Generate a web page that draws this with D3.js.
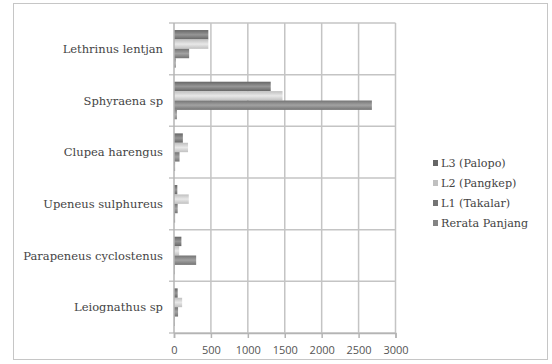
<!DOCTYPE html>
<html>
<head>
<meta charset="utf-8">
<script src="https://cdn.jsdelivr.net/npm/d3@7/dist/d3.min.js"></script>
<style>
  html, body { margin: 0; padding: 0; background: #fff; }
  svg { display: block; }
</style>
</head>
<body>
<svg id="chart" width="552" height="364"></svg>
<script>
// Fish species (top to bottom) and mean length per location
const categories = ["Lethrinus lentjan", "Sphyraena sp", "Clupea harengus", "Upeneus sulphureus", "Parapeneus cyclostenus", "Leiognathus sp"];
const seriesNames = ["L3 (Palopo)", "L2 (Pangkep)", "L1 (Takalar)", "Rerata Panjang"];
const l3Palopo = [465, 1310, 120, 45, 100, 50];
const l2Pangkep = [465, 1470, 190, 200, 70, 110];
const l1Takalar = [205, 2680, 75, 50, 300, 55];
const rerataPanjang = [25, 40, 15, 15, 10, 10];
const xTicks = [0, 500, 1000, 1500, 2000, 2500, 3000];

const seriesValues = [l3Palopo, l2Pangkep, l1Takalar, rerataPanjang];
const seriesColors = [
  { edge: "#666666", mid: "#969696" },
  { edge: "#c0c0c0", mid: "#e8e8e8" },
  { edge: "#747474", mid: "#a2a2a2" },
  { edge: "#848484", mid: "#b0b0b0" }
];

const svg = d3.select("#chart");
const plot = { left: 174, right: 395.5, top: 23, bottom: 333 };

const x = d3.scaleLinear().domain([0, 3000]).range([plot.left, plot.right]);
const y = d3.scaleBand().domain(categories).range([plot.top, plot.bottom]);
const ySub = d3.scaleBand().domain(seriesNames).range([0, y.bandwidth()])
  .paddingInner(0).paddingOuter(0.75);

// chart frame
svg.append("rect")
  .attr("x", 13.5).attr("y", 3.5).attr("width", 534).attr("height", 356)
  .attr("fill", "#fff").attr("stroke", "#c6c6c6").attr("stroke-width", 1);

// bar shading gradients
const defs = svg.append("defs");
seriesColors.forEach((c, i) => {
  const g = defs.append("linearGradient")
    .attr("id", "grad" + i).attr("x1", 0).attr("y1", 0).attr("x2", 0).attr("y2", 1);
  g.append("stop").attr("offset", "0%").attr("stop-color", c.edge);
  g.append("stop").attr("offset", "50%").attr("stop-color", c.mid);
  g.append("stop").attr("offset", "100%").attr("stop-color", c.edge);
});

// vertical gridlines
svg.append("g").selectAll("line")
  .data(xTicks.slice(1))
  .join("line")
  .attr("x1", d => x(d)).attr("x2", d => x(d))
  .attr("y1", plot.top).attr("y2", plot.bottom)
  .attr("stroke", "#c4c4c4").attr("stroke-width", 1.5);

// horizontal lines at category boundaries
const bounds = categories.map(c => y(c)).concat([plot.bottom]);
svg.append("g").selectAll("line")
  .data(bounds)
  .join("line")
  .attr("x1", plot.left - 5).attr("x2", plot.right)
  .attr("y1", d => d).attr("y2", d => d)
  .attr("stroke", "#c4c4c4").attr("stroke-width", 1.5);

// bars
const groups = svg.append("g").selectAll("g")
  .data(seriesNames)
  .join("g")
  .attr("fill", (d, i) => `url(#grad${i})`);

groups.selectAll("rect")
  .data((s, si) => categories.map((c, ci) => ({ c, s, v: seriesValues[si][ci] })))
  .join("rect")
  .attr("x", x(0))
  .attr("y", d => y(d.c) + ySub(d.s))
  .attr("height", ySub.bandwidth())
  .attr("width", d => x(d.v) - x(0));

// value axis
const xAxis = svg.append("g")
  .attr("transform", `translate(0,${plot.bottom})`)
  .call(d3.axisBottom(x).tickValues(xTicks).tickSize(5).tickPadding(8).tickFormat(d3.format("d")));
xAxis.select(".domain").attr("stroke", "#b4b4b4").attr("stroke-width", 1.5);
xAxis.selectAll(".tick line").attr("stroke", "#b4b4b4").attr("stroke-width", 1.5);
xAxis.selectAll("text")
  .attr("fill", "#555555")
  .style("font-family", "'Open Sans', sans-serif")
  .style("font-size", "11px");

// category axis line
svg.append("line")
  .attr("x1", plot.left).attr("x2", plot.left)
  .attr("y1", plot.top).attr("y2", plot.bottom)
  .attr("stroke", "#b4b4b4").attr("stroke-width", 1.5);

// category labels
svg.append("g").selectAll("text")
  .data(categories)
  .join("text")
  .attr("x", 163)
  .attr("y", d => y(d) + y.bandwidth() / 2)
  .attr("dy", "0.35em")
  .attr("text-anchor", "end")
  .attr("fill", "#444444")
  .style("font-family", "'DejaVu Serif', serif")
  .style("font-size", "11.5px")
  .text(d => d);

// legend
const legend = svg.append("g").attr("transform", "translate(433,163)");
const items = legend.selectAll("g")
  .data(seriesNames)
  .join("g")
  .attr("transform", (d, i) => `translate(0,${i * 20})`);
items.append("rect")
  .attr("x", 0).attr("y", -3).attr("width", 5).attr("height", 6)
  .attr("fill", (d, i) => seriesColors[i].edge);
items.append("text")
  .attr("x", 8).attr("dy", "0.35em")
  .attr("fill", "#444444")
  .style("font-family", "'DejaVu Serif', serif")
  .style("font-size", "11.2px")
  .text(d => d);
</script>
</body>
</html>
